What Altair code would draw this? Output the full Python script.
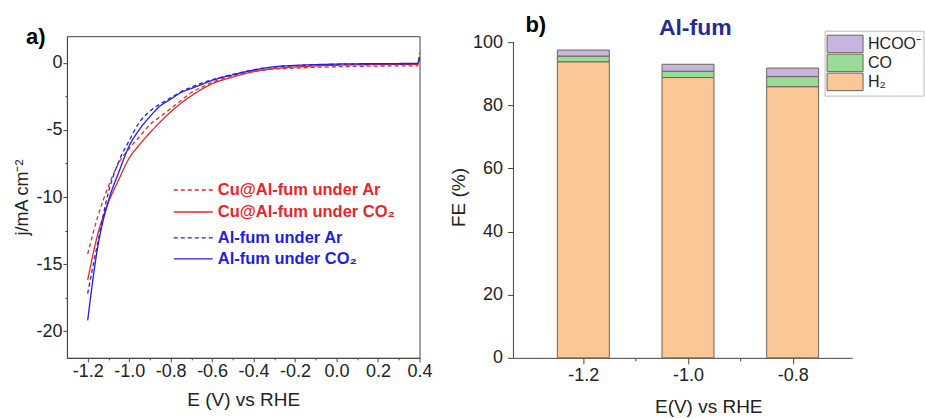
import altair as alt
import pandas as pd

FONT = "Liberation Sans"
INK = "#222222"
AXIS = "#444444"

# ---------------- (a) linear sweep voltammetry ----------------
# potential (V vs RHE) shared by all four curves
E = [-1.2, -1.15, -1.1, -1.05, -1.0, -0.95, -0.9, -0.85, -0.8, -0.75, -0.7, -0.65,
     -0.6, -0.5, -0.4, -0.3, -0.2, -0.1, 0.0, 0.1, 0.2, 0.3, 0.39, 0.4]
# current density, mA cm^-2
j_cu_ar = [-14.25, -11.4, -9.2, -7.45, -6.4, -5.5, -4.6, -4.0, -3.4, -2.8, -2.2, -1.8,
           -1.45, -0.95, -0.62, -0.45, -0.38, -0.32, -0.28, -0.25, -0.23, -0.22, -0.22, 0.75]
j_cu_co2 = [-16.2, -12.7, -10.4, -8.7, -7.1, -6.1, -5.2, -4.4, -3.65, -3.0, -2.45, -1.95,
            -1.55, -1.05, -0.65, -0.42, -0.3, -0.22, -0.17, -0.14, -0.12, -0.1, -0.1, 0.4]
j_al_ar = [-17.2, -13.3, -9.65, -7.35, -5.8, -4.4, -3.6, -3.05, -2.6, -2.15, -1.8, -1.5,
           -1.25, -0.85, -0.5, -0.3, -0.2, -0.14, -0.1, -0.08, -0.07, -0.06, -0.05, 0.3]
j_al_co2 = [-19.2, -13.6, -10.3, -8.15, -6.2, -4.95, -4.0, -3.2, -2.7, -2.2, -1.9, -1.6,
            -1.3, -0.88, -0.53, -0.28, -0.18, -0.12, -0.08, -0.06, -0.05, -0.04, -0.03, 0.45]

series_names = ["Cu@Al-fum under Ar", "Cu@Al-fum under CO₂",
                "Al-fum under Ar", "Al-fum under CO₂"]
series_values = [j_cu_ar, j_cu_co2, j_al_ar, j_al_co2]
series_colors = ["#E8262B", "#E8262B", "#1F1FE0", "#1F1FE0"]
series_dash = [[4, 3], [1, 0], [4, 3], [1, 0]]

lsv = pd.DataFrame(
    [{"series": n, "E": e, "j": v} for n, vals in zip(series_names, series_values)
     for e, v in zip(E, vals)]
)

x_ticks_a = [-1.2, -1.1, -1.0, -0.9, -0.8, -0.7, -0.6, -0.5, -0.4, -0.3, -0.2, -0.1,
             0.0, 0.1, 0.2, 0.3, 0.4]
y_ticks_a = [-20, -17.5, -15, -12.5, -10, -7.5, -5, -2.5, 0]

signed_1f = "(datum.value < -0.001 ? '-' : '') + format(abs(datum.value), '.1f')"
odd_tenth = "abs(round(datum.value * 10)) % 2 == 1"

lines = alt.Chart(lsv).mark_line(strokeWidth=1.3, interpolate="monotone").encode(
    x=alt.X("E:Q", title="E (V) vs RHE",
            scale=alt.Scale(domain=[-1.3, 0.4], nice=False, zero=False),
            axis=alt.Axis(values=x_ticks_a,
                          labelExpr=f"{odd_tenth} ? '' : {signed_1f}",
                          tickSize={"condition": {"test": odd_tenth, "value": 2}, "value": 4},
                          labelPadding=1, labelFontSize=18, titleFontSize=19,
                          titlePadding=10, labelFlush=False)),
    y=alt.Y("j:Q", title="j/mA cm⁻²",
            scale=alt.Scale(domain=[-22, 2], nice=False, zero=False),
            axis=alt.Axis(values=y_ticks_a,
                          labelExpr="datum.value % 5 != 0 ? '' : "
                                    "(datum.value < 0 ? '-' : '') + format(abs(datum.value), 'd')",
                          tickSize={"condition": {"test": "datum.value % 5 != 0", "value": 2},
                                    "value": 4},
                          labelPadding=1, labelFontSize=18, titleFontSize=18,
                          titlePadding=4, labelFlush=False)),
    color=alt.Color("series:N", scale=alt.Scale(domain=series_names, range=series_colors),
                    legend=None),
    strokeDash=alt.StrokeDash("series:N",
                              scale=alt.Scale(domain=series_names, range=series_dash),
                              legend=None),
)

# key for the curves, text coloured per series
legend_rows_y = [154, 176, 202, 223]
key_layers = []
for name, col, dash, yy in zip(series_names, series_colors, series_dash, legend_rows_y):
    row = pd.DataFrame({"label": [name]})
    key_layers.append(
        alt.Chart(row).mark_rule(color=col, strokeWidth=1.3, strokeDash=dash).encode(
            x=alt.value(107), x2=alt.value(146), y=alt.value(yy))
    )
    key_layers.append(
        alt.Chart(row).mark_text(align="left", baseline="middle", fontSize=16.5,
                                 fontWeight="bold", color=col).encode(
            x=alt.value(151), y=alt.value(yy), text="label:N")
    )

panel_a_tag = alt.Chart(pd.DataFrame({"t": ["a)"]})).mark_text(
    align="left", baseline="alphabetic", fontSize=22, fontWeight="bold", color="#000"
).encode(x=alt.value(-41), y=alt.value(8), text="t:N")

panel_a = alt.layer(lines, *key_layers, panel_a_tag).properties(
    width=353, height=322,
    view=alt.ViewBackground(stroke=AXIS, strokeWidth=1),
)

# ---------------- (b) Faradaic efficiency ----------------
potentials = [-1.2, -1.0, -0.8]
fe_h2 = [93.8, 88.8, 85.9]
fe_co = [1.8, 2.0, 3.2]
fe_hcoo = [1.9, 2.2, 2.7]

products = ["H₂", "CO", "HCOO⁻"]
product_colors = {"H₂": "#FAC896", "CO": "#9ADB9A", "HCOO⁻": "#C8B5DF"}
legend_order = ["HCOO⁻", "CO", "H₂"]
BAR_EDGE = "#6E6258"

fe = pd.DataFrame(
    [{"potential": p, "product": prod, "fe": v, "rank": k}
     for k, (prod, vals) in enumerate(zip(products, [fe_h2, fe_co, fe_hcoo]))
     for p, v in zip(potentials, vals)]
)

x_ticks_b = [-1.2, -1.1, -1.0, -0.9, -0.8]
y_ticks_b = [0, 10, 20, 30, 40, 50, 60, 70, 80, 90, 100]

bars = alt.Chart(fe).mark_bar(size=52, stroke=BAR_EDGE, strokeWidth=1).encode(
    x=alt.X("potential:Q", title="E(V) vs RHE",
            scale=alt.Scale(domain=[-1.324, -0.696], nice=False, zero=False),
            axis=alt.Axis(values=x_ticks_b,
                          labelExpr=f"{odd_tenth} ? '' : {signed_1f}",
                          tickSize={"condition": {"test": odd_tenth, "value": 3}, "value": 6},
                          labelPadding=3, labelFontSize=18, titleFontSize=19,
                          titlePadding=13, titleX=195, labelFlush=False)),
    y=alt.Y("fe:Q", title="FE (%)", stack="zero",
            scale=alt.Scale(domain=[0, 101.9], nice=False),
            axis=alt.Axis(values=y_ticks_b, domain=False,
                          labelExpr="datum.value % 20 != 0 ? '' : format(datum.value, 'd')",
                          tickSize={"condition": {"test": "datum.value % 20 != 0", "value": 3},
                                    "value": 6},
                          labelPadding=5, labelFontSize=18, titleFontSize=19,
                          titlePadding=4, labelFlush=False)),
    color=alt.Color("product:N",
                    scale=alt.Scale(domain=legend_order,
                                    range=[product_colors[p] for p in legend_order]),
                    legend=None),
    order=alt.Order("rank:Q", sort="ascending"),
)

# y axis line stops at 100 %
y_line = alt.Chart(pd.DataFrame({"lo": [0], "hi": [100]})).mark_rule(
    color=AXIS, strokeWidth=1).encode(x=alt.value(0), y="lo:Q", y2="hi:Q")

# boxed key with wide colour swatches
key_box = alt.Chart(pd.DataFrame({"k": [0]})).mark_rect(
    fill="white", stroke="#BBBBBB", strokeWidth=1).encode(
    x=alt.value(312), x2=alt.value(411), y=alt.value(-5), y2=alt.value(60))
swatch_top = [-1, 18, 37]
b_keys = [key_box]
for prod, top in zip(legend_order, swatch_top):
    row = pd.DataFrame({"label": [prod]})
    b_keys.append(
        alt.Chart(row).mark_rect(fill=product_colors[prod], stroke=BAR_EDGE,
                                 strokeWidth=1).encode(
            x=alt.value(314), x2=alt.value(350), y=alt.value(top), y2=alt.value(top + 17.5))
    )
    b_keys.append(
        alt.Chart(row).mark_text(align="left", baseline="middle", fontSize=16,
                                 color=INK).encode(
            x=alt.value(355), y=alt.value(top + 9), text="label:N")
    )

panel_b_tag = alt.Chart(pd.DataFrame({"t": ["b)"]})).mark_text(
    align="left", baseline="alphabetic", fontSize=22, fontWeight="bold", color="#000"
).encode(x=alt.value(12), y=alt.value(-4), text="t:N")

panel_b_title = alt.Chart(pd.DataFrame({"t": ["Al-fum"]})).mark_text(
    align="center", baseline="alphabetic", fontSize=23, fontWeight="bold", color="#262C8C"
).encode(x=alt.value(182), y=alt.value(-1), text="t:N")

panel_b = alt.layer(bars, y_line, *b_keys, panel_b_tag, panel_b_title).properties(
    width=339, height=322,
    view=alt.ViewBackground(stroke="transparent"),
)

chart = alt.hconcat(panel_a, panel_b, spacing=94, bounds="flush").resolve_scale(
    color="independent", strokeDash="independent", x="independent", y="independent"
).properties(
    padding={"left": 13, "top": 13, "right": 0, "bottom": 0}
).configure(font=FONT).configure_axis(
    grid=False, labelFont=FONT, titleFont=FONT, labelColor=INK, titleColor=INK,
    titleFontWeight="normal", domainColor=AXIS, tickColor=AXIS, domainWidth=1, tickWidth=1
)

chart.save("out.html", embed_options={"renderer": "svg", "actions": False})
